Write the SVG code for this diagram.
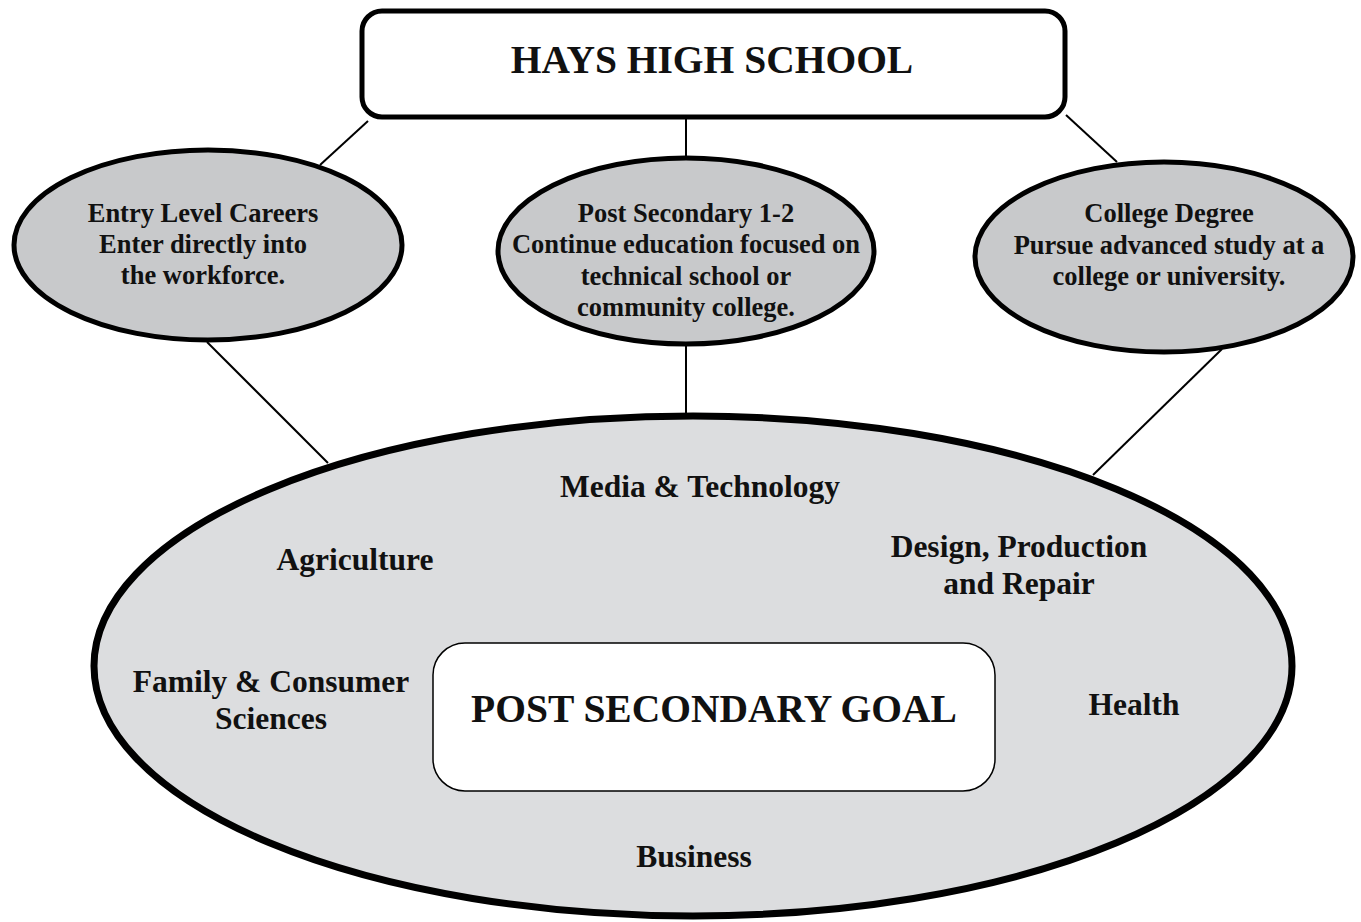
<svg xmlns="http://www.w3.org/2000/svg" width="1361" height="922" viewBox="0 0 1361 922">
<style>
.t{font-family:"Liberation Serif","Times New Roman",serif;font-weight:bold;fill:#111;text-anchor:middle}
.s{font-size:26.5px}
.m{font-size:31.5px}
.l{font-size:39.5px}
.oval{fill:#c8c9cb;stroke:#000;stroke-width:5}
.conn line{stroke:#000;stroke-width:2}
</style>
<rect width="1361" height="922" fill="#fff"/>
<g class="conn" id="connectors">
<line x1="368" y1="121" x2="320" y2="165"/>
<line x1="686" y1="117" x2="686" y2="157"/>
<line x1="1066" y1="115" x2="1117" y2="162"/>
<line x1="207" y1="342" x2="328" y2="463"/>
<line x1="686" y1="346" x2="686" y2="416"/>
<line x1="1222" y1="349" x2="1093" y2="475"/>
</g>
<g id="goal-area">
<ellipse cx="693" cy="666" rx="599" ry="250" fill="#dcdddf" stroke="#000" stroke-width="7"/>
<text class="t m" x="700" y="497">Media &amp; Technology</text>
<text class="t m" x="355" y="570">Agriculture</text>
<text class="t m" x="1019" y="557">Design, Production</text>
<text class="t m" x="1019" y="594">and Repair</text>
<text class="t m" x="271" y="692">Family &amp; Consumer</text>
<text class="t m" x="271" y="729">Sciences</text>
<text class="t m" x="1134" y="715">Health</text>
<text class="t m" x="694" y="867">Business</text>
</g>
<g id="goal">
<rect x="433" y="643" width="562" height="148" rx="32" fill="#fff" stroke="#000" stroke-width="1.5"/>
<text class="t l" x="714" y="722">POST SECONDARY GOAL</text>
</g>
<g id="school">
<rect x="362" y="11" width="703" height="106" rx="20" fill="#fff" stroke="#000" stroke-width="5"/>
<text class="t l" x="712" y="73">HAYS HIGH SCHOOL</text>
</g>
<g id="entry">
<ellipse class="oval" cx="208" cy="245" rx="194" ry="95"/>
<text class="t s" x="203" y="222">Entry Level Careers</text>
<text class="t s" x="203" y="253">Enter directly into</text>
<text class="t s" x="203" y="284">the workforce.</text>
</g>
<g id="post12">
<ellipse class="oval" cx="686" cy="251" rx="188" ry="93"/>
<text class="t s" x="686" y="222">Post Secondary 1-2</text>
<text class="t s" x="686" y="253">Continue education focused on</text>
<text class="t s" x="686" y="285">technical school or</text>
<text class="t s" x="686" y="316">community college.</text>
</g>
<g id="college">
<ellipse class="oval" cx="1164" cy="257" rx="189" ry="95"/>
<text class="t s" x="1169" y="222">College Degree</text>
<text class="t s" x="1169" y="254">Pursue advanced study at a</text>
<text class="t s" x="1169" y="285">college or university.</text>
</g>
</svg>
